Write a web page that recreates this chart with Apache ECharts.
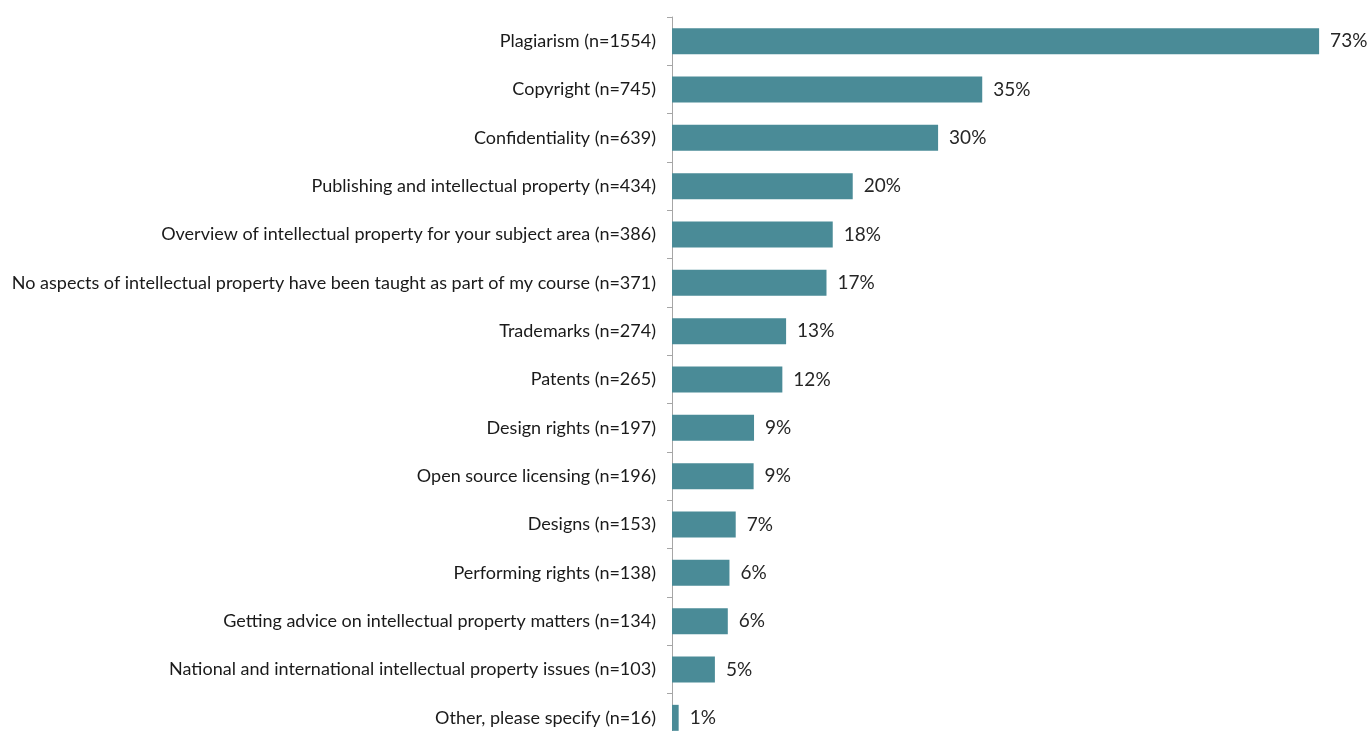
<!DOCTYPE html>
<html>
<head>
<meta charset="utf-8">
<script src="https://cdn.jsdelivr.net/npm/echarts@6/dist/echarts.min.js"></script>
<style>
    html, body { margin: 0; padding: 0; background: #fff; overflow: hidden; }
    /* taller than the window: the original picture cuts the last row off */
    #chart { width: 1372px; height: 760px; }
</style>
</head>
<body>
<div id="chart"></div>
<script>
// categories top to bottom
var categories = [
    'Plagiarism (n=1554)',
    'Copyright (n=745)',
    'Confidentiality (n=639)',
    'Publishing and intellectual property (n=434)',
    'Overview of intellectual property for your subject area (n=386)',
    'No aspects of intellectual property have been taught as part of my course (n=371)',
    'Trademarks (n=274)',
    'Patents (n=265)',
    'Design rights (n=197)',
    'Open source licensing (n=196)',
    'Designs (n=153)',
    'Performing rights (n=138)',
    'Getting advice on intellectual property matters (n=134)',
    'National and international intellectual property issues (n=103)',
    'Other, please specify (n=16)'
];
var counts = [1554, 745, 639, 434, 386, 371, 274, 265, 197, 196, 153, 138, 134, 103, 16];
var percents = [73, 35, 30, 20, 18, 17, 13, 12, 9, 9, 7, 6, 6, 5, 1];

var chart = echarts.init(document.getElementById('chart'));

chart.setOption({
    animation: false,
    grid: {
        left: 672,
        right: 0,
        top: 17,
        height: 725,
        containLabel: false
    },
    xAxis: {
        type: 'value',
        min: 0,
        max: 1681,
        show: false
    },
    yAxis: {
        type: 'category',
        inverse: true,
        data: categories,
        axisLine: { show: true, lineStyle: { color: '#a6a6a6', width: 1 } },
        axisTick: { show: true, length: 5, lineStyle: { color: '#a6a6a6' } },
        axisLabel: {
            color: '#1a1a1a',
            fontFamily: 'Lato',
            fontSize: 18,
            margin: 16
        },
        splitLine: { show: false }
    },
    series: [{
        type: 'bar',
        data: counts,
        barWidth: 26,
        itemStyle: { color: '#4a8b97' },
        label: {
            show: true,
            position: 'right',
            distance: 11,
            color: '#262626',
            fontFamily: 'Lato',
            fontSize: 19,
            formatter: function (p) {
                return percents[p.dataIndex] + '%';
            }
        }
    }]
});
</script>
</body>
</html>
